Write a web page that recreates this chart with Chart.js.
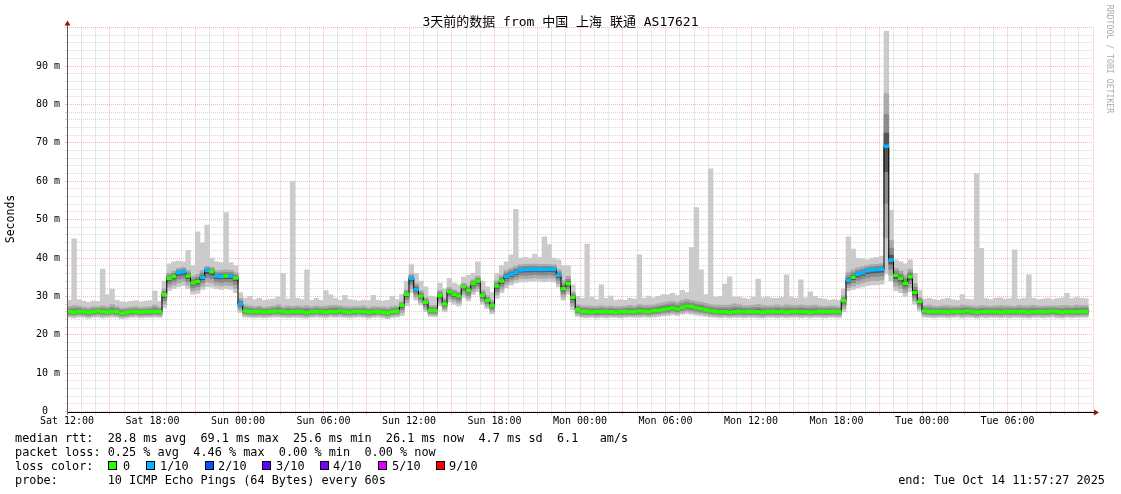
<!DOCTYPE html>
<html><head><meta charset="utf-8">
<script src="https://cdn.jsdelivr.net/npm/chart.js@4.4.1/dist/chart.umd.min.js"></script>
<style>
html,body{margin:0;padding:0;background:#fff;width:1121px;height:494px;overflow:hidden;}
#wrap{position:relative;width:1121px;height:494px;}
canvas{position:absolute;left:0;top:0;}
.t{position:absolute;font-family:"DejaVu Sans Mono",monospace;color:#000;white-space:pre;line-height:12px;font-size:11.85px;}
#title{left:0;width:1121px;text-align:center;top:14.5px;font-size:13px;line-height:14px;font-family:"DejaVu Sans Mono","Noto Sans CJK SC",monospace;}
#ylab{left:-30px;top:213px;width:80px;text-align:center;transform:rotate(-90deg);font-size:11.5px;}
#rrd{left:1050px;top:54px;width:120px;text-align:center;transform:rotate(90deg);font-size:8.2px;color:#aaa;line-height:10px;}
.sq{position:absolute;width:7px;height:7px;border:1px solid #000;top:461px;}
</style></head>
<body><div id="wrap">
<canvas id="c" width="1121" height="494"></canvas>
<div class="t" id="title">3天前的数据 from 中国 上海 联通 AS17621</div>
<div class="t" id="ylab">Seconds</div>
<div class="t" id="rrd">RRDTOOL / TOBI OETIKER</div>
<div class="t" style="left:15px;top:432px;">median rtt:  28.8 ms avg  69.1 ms max  25.6 ms min  26.1 ms now  4.7 ms sd  6.1   am/s</div>
<div class="t" style="left:15px;top:446px;">packet loss: 0.25 % avg  4.46 % max  0.00 % min  0.00 % now</div>
<div class="t" style="left:15px;top:460px;">loss color:</div>
<div id="lossRow"></div>
<div class="t" style="left:15px;top:474px;">probe:       10 ICMP Echo Pings (64 Bytes) every 60s</div>
<div class="t" style="right:16px;top:474px;">end: Tue Oct 14 11:57:27 2025</div>
</div>
<script>
// ---- data (20-minute steps, starting Sat 12:00) ----
const stepHours = 1/3;
const xTickLabels = ['Sat 12:00','Sat 18:00','Sun 00:00','Sun 06:00','Sun 12:00','Sun 18:00','Mon 00:00','Mon 06:00','Mon 12:00','Mon 18:00','Tue 00:00','Tue 06:00'];
const median = [
26.0,25.9,26.1,26.0,25.8,26.0,26.2,26.0,25.9,26.1,26.0,25.6,25.8,26.0,26.1,25.9,26.0,26.0,26.1,26.0,
30.4,34.7,35.2,36.2,36.4,35.3,33.5,33.9,35.0,36.8,36.4,35.3,35.2,35.3,35.3,34.8,28.0,
26.2,26.1,26.0,26.1,25.9,26.0,26.1,26.2,26.0,25.9,26.0,26.1,26.0,25.8,26.0,26.1,26.0,25.9,26.1,26.0,26.2,26.0,25.9,26.0,26.1,26.0,25.8,26.0,26.1,25.9,25.7,26.0,26.1,27.7,
30.6,34.7,31.8,30.1,28.5,26.4,26.3,30.2,28.0,31.2,30.6,30.1,32.5,31.5,33.3,34.0,30.3,29.0,27.6,32.7,34.0,35.2,35.7,36.3,36.9,37.0,37.0,37.1,37.0,37.0,37.1,37.0,35.5,32.0,33.3,29.8,26.5,
26.0,26.1,25.9,26.0,26.0,26.1,26.0,25.9,26.0,26.1,26.0,26.0,26.2,26.1,26.0,26.3,26.4,26.6,26.8,27.0,26.7,27.2,27.5,27.3,27.0,26.8,26.5,26.2,26.1,26.0,26.0,25.9,26.0,26.1,26.0,26.0,26.1,26.0,25.9,26.0,26.1,26.0,26.0,25.9,26.0,26.1,26.0,26.0,25.9,26.0,26.1,26.0,26.0,26.1,26.0,28.9,
34.2,35.0,35.8,36.2,36.7,36.9,37.0,37.1,69.1,39.5,35.5,34.7,33.4,35.1,31.0,28.6,
26.2,26.1,26.0,26.0,26.1,25.9,26.0,26.1,26.0,26.2,26.0,25.9,26.0,26.1,26.0,26.0,25.9,26.1,26.0,26.0,26.1,26.0,25.9,26.0,26.1,26.0,26.0,26.2,26.0,25.9,26.1,26.0,26.0,26.1,26.1];
const minPing = [
24.5,24.4,24.6,24.5,24.3,24.5,24.6,24.4,24.5,24.6,24.5,24.2,24.3,24.5,24.6,24.4,24.5,24.5,24.6,24.5,
27.0,31.5,32.0,32.5,32.8,32.0,30.6,30.8,31.8,32.5,32.4,32.0,31.8,32.0,31.8,31.0,25.8,
24.6,24.5,24.4,24.5,24.4,24.5,24.6,24.6,24.5,24.4,24.5,24.5,24.4,24.3,24.5,24.6,24.5,24.4,24.6,24.5,24.6,24.5,24.4,24.5,24.6,24.5,24.3,24.5,24.6,24.4,24.2,24.5,24.6,25.0,
27.5,31.0,29.0,27.8,26.0,24.8,24.7,27.5,26.0,28.5,28.0,27.5,29.8,28.8,30.5,31.2,28.0,26.8,25.5,29.5,31.0,32.3,33.0,33.5,33.8,33.8,33.9,34.0,33.9,33.8,33.9,33.8,32.5,29.0,30.5,26.5,24.8,
24.5,24.4,24.5,24.3,24.5,24.4,24.5,24.5,24.4,24.5,24.6,24.5,24.5,24.6,24.5,24.6,24.7,24.9,25.0,25.2,25.0,25.3,25.5,25.3,25.1,25.0,24.8,24.6,24.5,24.4,24.5,24.4,24.5,24.5,24.4,24.5,24.5,24.4,24.3,24.5,24.5,24.4,24.5,24.4,24.5,24.5,24.4,24.5,24.4,24.5,24.5,24.4,24.5,24.5,24.4,26.0,
31.5,31.8,32.2,32.5,32.8,33.0,33.0,33.2,36.0,34.0,31.5,31.0,30.0,31.2,28.0,26.2,
24.6,24.5,24.4,24.5,24.5,24.4,24.5,24.6,24.4,24.5,24.5,24.3,24.5,24.4,24.5,24.5,24.4,24.5,24.4,24.5,24.5,24.4,24.3,24.5,24.5,24.4,24.5,24.6,24.4,24.3,24.5,24.4,24.5,24.5,24.5];
const upperPing = [
28.3,28.8,28.4,28.0,27.8,28.1,28.0,28.6,28.2,29.0,28.3,27.9,27.8,28.0,28.2,27.9,28.0,28.1,28.8,28.0,
33.0,37.0,37.5,38.0,38.3,37.8,36.5,37.0,38.0,38.5,38.4,37.6,37.8,38.0,37.8,37.0,30.5,
28.8,28.5,28.2,28.4,28.0,28.2,28.4,28.9,28.1,28.6,28.2,28.5,28.3,28.8,28.1,28.4,28.3,28.5,28.6,28.8,28.4,28.2,28.1,28.3,28.2,28.5,28.0,28.2,28.1,28.2,28.0,28.3,28.4,29.2,
32.5,36.5,34.5,32.5,30.5,28.5,28.6,32.5,30.5,33.0,32.5,32.0,34.0,33.5,35.0,36.0,32.5,31.0,29.8,35.0,36.5,37.8,38.5,39.0,39.2,39.3,39.4,39.3,39.2,39.3,39.2,39.0,38.0,35.5,36.5,32.0,28.8,
28.6,28.4,28.5,28.3,28.6,28.2,28.5,28.3,28.2,28.4,28.8,28.5,29.0,28.7,28.9,28.8,29.2,29.5,29.8,29.9,29.6,30.2,30.4,30.0,29.8,29.6,29.3,29.0,28.8,28.9,28.8,29.0,29.4,29.0,28.7,28.6,28.8,29.2,28.9,28.6,28.5,29.0,28.6,29.1,28.8,28.6,29.0,28.7,28.8,28.9,28.5,28.4,28.6,28.5,28.3,31.0,
37.5,38.2,38.6,38.8,39.0,39.2,39.3,39.5,92.0,48.0,38.5,38.0,37.0,38.5,35.0,30.5,
28.6,28.8,28.5,28.4,28.6,28.8,28.5,28.4,28.9,28.6,28.5,28.3,28.7,28.5,28.4,28.6,28.8,28.5,28.6,28.4,28.7,28.5,28.6,28.8,28.4,28.5,28.6,28.4,28.5,28.7,28.6,28.5,28.9,28.6,28.6];
const maxPing = [
29.0,45.0,29.2,28.8,28.5,28.8,28.7,37.1,30.5,31.9,29.0,28.6,28.5,28.7,28.9,28.6,28.8,28.9,31.4,28.7,
34.0,38.5,39.0,39.2,39.0,42.0,38.0,46.8,43.9,48.6,40.0,39.0,38.8,51.8,38.8,38.0,31.0,
29.5,30.0,29.2,29.5,29.0,29.2,29.3,29.8,36.0,29.3,59.9,29.5,29.2,36.9,29.0,29.5,29.0,31.5,30.4,29.5,29.0,30.3,29.2,29.0,28.8,29.0,28.9,30.3,29.0,28.8,29.0,30.0,29.2,30.5,
34.0,38.3,36.0,34.0,32.5,30.0,29.8,33.5,32.0,34.7,33.5,33.0,35.0,35.5,36.0,39.0,34.0,32.5,31.0,36.0,38.0,39.0,40.8,52.7,40.0,40.2,40.0,41.0,40.2,45.5,43.5,40.0,39.5,38.0,38.0,33.0,30.0,
29.5,43.6,29.8,29.2,33.0,29.5,30.1,29.0,29.2,29.0,29.5,29.3,40.8,29.5,30.1,29.6,30.0,30.5,30.4,30.8,30.2,31.6,31.0,42.7,53.1,36.9,30.5,63.2,29.8,30.0,33.2,35.1,29.8,29.8,29.5,29.3,29.8,34.5,29.6,29.8,29.5,29.5,29.7,35.6,29.8,29.5,34.3,29.6,31.2,30.0,29.5,29.3,29.0,29.2,29.0,32.0,
45.5,42.3,40.0,39.8,39.5,40.0,40.2,40.5,99.1,52.5,39.5,39.0,38.5,39.5,36.0,31.5,
29.3,29.5,29.2,29.0,29.3,29.5,29.2,29.0,30.5,29.3,29.2,62.0,42.5,29.4,29.2,29.5,29.6,29.3,29.4,42.1,29.3,29.5,35.6,29.5,29.2,29.3,29.5,29.2,29.4,29.6,30.8,29.4,29.7,29.5,29.4];
// steps with 1/10 packet loss (others: 0)
const lossOneTenth = [23,24,28,29,31,32,34,36,72,73,92,93,94,95,96,97,98,99,100,101,102,103,164,166,167,168,169,170,171,172,173];
const lossLegend = ['0','1/10','2/10','3/10','4/10','5/10','9/10'];
const lossColors = ['#26ff00','#00b8ff','#0059ff','#5e00ff','#7e00ff','#dd00ff','#ff0000'];

[minPing, upperPing, maxPing].forEach(a => { if (a.length !== median.length) throw new Error('length ' + a.length + ' vs ' + median.length); });

// legend row for loss colours
const sqX = [108,146,205,262,320,378,436];
const lbX = [123,160,218,276,333,392,449];
const row = document.getElementById('lossRow');
lossLegend.forEach((l, k) => {
  const s = document.createElement('div'); s.className = 'sq'; s.style.left = sqX[k] + 'px'; s.style.background = lossColors[k]; row.appendChild(s);
  const t = document.createElement('div'); t.className = 't'; t.style.left = lbX[k] + 'px'; t.style.top = '460px'; t.textContent = l; row.appendChild(t);
});

// ---- build datasets ----
const xs = median.map((_, i) => i * stepHours + stepHours / 2);
function band(fLo, fHi) {
  return median.map((m, i) => ({x: xs[i], y: [m - fLo * (m - minPing[i]), m + fHi * (upperPing[i] - m)]}));
}
const lossSet = new Set(lossOneTenth);
const barBase = {type: 'bar', grouped: false, barPercentage: 1, categoryPercentage: 1, borderWidth: 0, borderSkipped: false};
const datasets = [
  Object.assign({}, barBase, {order: 6, backgroundColor: '#cbcbcb', data: median.map((m, i) => ({x: xs[i], y: [minPing[i], maxPing[i]]}))}),
  Object.assign({}, barBase, {order: 5, backgroundColor: '#ababab', data: band(0.72, 0.6)}),
  Object.assign({}, barBase, {order: 4, backgroundColor: '#8a8a8a', data: band(0.45, 0.36)}),
  Object.assign({}, barBase, {order: 3, backgroundColor: '#555555', data: band(0.2, 0.15)}),
  {type: 'line', order: 1, data: median.map((m, i) => ({x: xs[i], y: m})), stepped: 'middle', borderColor: '#000', borderWidth: 1, pointRadius: 0, fill: false},
  Object.assign({}, barBase, {order: 0, backgroundColor: median.map((m, i) => lossSet.has(i) ? lossColors[1] : lossColors[0]),
    data: median.map((m, i) => ({x: xs[i], y: [m - 0.38, m + 0.38]}))})
];

const minorGrid = 'rgba(150,150,150,0.38)';
const majorGrid = 'rgba(240,80,80,0.42)';

const arrows = {
  id: 'arrows',
  afterDraw(chart) {
    const {ctx, chartArea: a} = chart;
    const L = Math.round(a.left) + 0.5, B = Math.round(a.bottom) + 0.5;
    ctx.save();
    ctx.strokeStyle = '#000'; ctx.lineWidth = 1;
    ctx.beginPath(); ctx.moveTo(a.left, B); ctx.lineTo(a.right + 3, B); ctx.stroke();
    ctx.strokeStyle = '#6d5555';
    ctx.beginPath(); ctx.moveTo(L, a.bottom + 3); ctx.lineTo(L, a.top - 4); ctx.stroke();
    ctx.fillStyle = '#8b1a1a';
    ctx.beginPath(); ctx.moveTo(L - 3, a.top - 2); ctx.lineTo(L + 3, a.top - 2); ctx.lineTo(L, a.top - 7); ctx.closePath(); ctx.fill();
    ctx.beginPath(); ctx.moveTo(a.right + 1, B - 3); ctx.lineTo(a.right + 1, B + 3); ctx.lineTo(a.right + 6, B); ctx.closePath(); ctx.fill();
    ctx.restore();
  }
};

new Chart(document.getElementById('c'), {
  type: 'bar',
  data: {datasets},
  options: {
    responsive: false, animation: false, devicePixelRatio: 1,
    layout: {padding: {top: 27.6, right: 28, left: 0, bottom: 0}},
    plugins: {legend: {display: false}, tooltip: {enabled: false}, title: {display: false}},
    scales: {
      x: {
        type: 'linear', min: 0, max: 72, offset: false,
        afterFit: s => { s.height = 82.4; },
        grid: {offset: false, color: c => (c.tick && c.tick.value % 3 === 0) ? majorGrid : minorGrid, lineWidth: 1,
               drawTicks: true, tickLength: 3, tickColor: c => (c.tick && c.tick.value % 3 === 0) ? majorGrid : minorGrid},
        border: {display: false, dash: [1, 1]},
        ticks: {stepSize: 1, autoSkip: false, maxRotation: 0, padding: 1, color: '#000',
                font: {family: 'DejaVu Sans Mono', size: 10},
                callback: v => (v % 6 === 0 && v < 72) ? xTickLabels[v / 6] : ''}
      },
      y: {
        type: 'linear', min: 0, max: 100,
        afterFit: s => { s.width = 67; },
        grid: {color: c => (c.tick && c.tick.value % 10 === 0) ? majorGrid : minorGrid, lineWidth: 1,
               drawTicks: true, tickLength: 2, tickColor: c => (c.tick && c.tick.value % 10 === 0) ? majorGrid : minorGrid},
        border: {display: false, dash: [1, 1]},
        ticks: {stepSize: 2, autoSkip: false, padding: 5, color: '#000',
                font: {family: 'DejaVu Sans Mono', size: 10},
                callback: v => v === 0 ? '0  ' : ((v % 10 === 0 && v < 100) ? v + ' m' : '')}
      }
    }
  },
  plugins: [arrows]
});
</script>
</body></html>
